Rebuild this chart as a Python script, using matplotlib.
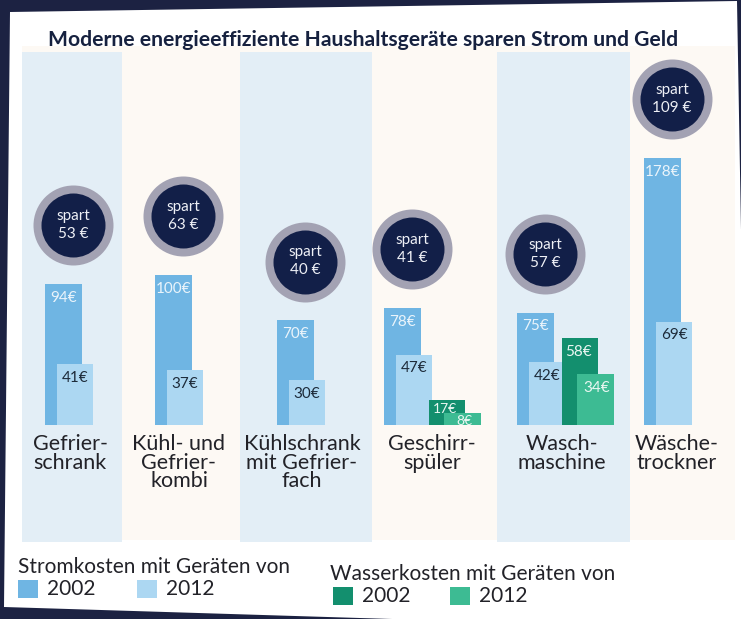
import matplotlib.pyplot as plt
from matplotlib.patches import Polygon, Rectangle

# data
categories = ["Gefrier-\nschrank", "Kühl- und\nGefrier-\nkombi", "Kühlschrank\nmit Gefrier-\nfach",
              "Geschirr-\nspüler", "Wasch-\nmaschine", "Wäsche-\ntrockner"]
strom_2002 = [94, 100, 70, 78, 75, 178]
strom_2012 = [41, 37, 30, 47, 42, 69]
wasser_2002 = [None, None, None, 17, 58, None]
wasser_2012 = [None, None, None, 8, 34, None]
spart = [53, 63, 40, 41, 57, 109]

# layout (pixels)
group_left = [45, 155, 277, 384, 517, 644]
label_x = [70, 179, 302, 432, 562, 677]
W, H = 741, 619
base_px, px_per_eur = 425, 1.5

c_s02, c_s12 = "#6fb5e3", "#acd7f2"
c_w02, c_w12 = "#138f6e", "#3dbb93"
navy = "#121f48"
txt_col = "#222228"
FONT = "Lato"

fig = plt.figure(figsize=(W / 100, H / 100), dpi=100, facecolor="#1c2242")

bg = fig.add_axes([0, 0, 1, 1])
bg.set_xlim(0, W)
bg.set_ylim(H, 0)
bg.axis("off")
bg.add_patch(Polygon([(10, 12), (737, 1), (748, 630), (4, 607)], closed=True,
                     facecolor="white", edgecolor="none"))
bg.add_patch(Rectangle((22, 46), 713, 494, facecolor="#fdf9f4", edgecolor="none"))
for x0, x1 in [(22, 122), (240, 372), (497, 630)]:
    bg.add_patch(Rectangle((x0, 52), x1 - x0, 490, facecolor="#e3eef6", edgecolor="none"))

bg.text(48, 40, "Moderne energieeffiziente Haushaltsgeräte sparen Strom und Geld",
        fontsize=15.2, fontweight="bold", color="#16213f", family=FONT, va="center", ha="left")

for x, lab in zip(label_x, categories):
    bg.text(x, 434, lab, ha="center", va="top", fontsize=15.5, family=FONT, color=txt_col,
            linespacing=0.92)

# legend
bg.text(18, 567, "Stromkosten mit Geräten von", fontsize=15, family=FONT,
        va="center", color=txt_col)
bg.text(330, 574, "Wasserkosten mit Geräten von", fontsize=15, family=FONT,
        va="center", color=txt_col)
for (sx, sy, col, txt) in [(18, 580, c_s02, "2002"), (137, 580, c_s12, "2012"),
                           (333, 587, c_w02, "2002"), (450, 587, c_w12, "2012")]:
    bg.add_patch(Rectangle((sx, sy), 20, 18, facecolor=col, edgecolor="none"))
    bg.text(sx + 29, sy + 9, txt, fontsize=15, family=FONT,
            va="center", color=txt_col)

# data axes: y in euro
ax = fig.add_axes([0, 0, 1, 1])
ax.set_xlim(0, W)
ax.set_ylim((base_px - H) / px_per_eur, base_px / px_per_eur)
ax.axis("off")
ax.patch.set_alpha(0)


def value_label(x, v, color):
    h = v * px_per_eur
    off = min(14, max(8, 0.36 * h))
    fs = 11 if h >= 30 else 10
    ax.annotate(f"{v}€", (x, v), xytext=(0, -off), textcoords="offset pixels",
                ha="center", va="center", fontsize=fs, family=FONT, color=color)


for i, g in enumerate(group_left):
    ax.bar(g, strom_2002[i], width=37, align="edge", color=c_s02)
    value_label(g + 18.5, strom_2002[i], "#eaf4fb")
    ax.bar(g + 12, strom_2012[i], width=36, align="edge", color=c_s12)
    value_label(g + 30, strom_2012[i], "#1d2b3a")
    if wasser_2002[i] is not None:
        ax.bar(g + 45, wasser_2002[i], width=36, align="edge", color=c_w02)
        ax.bar(g + 60, wasser_2012[i], width=37, align="edge", color=c_w12)
        value_label(g + 61, wasser_2002[i], "#eaf7f2")
        value_label(g + 80, wasser_2012[i], "#eaf7f2")

    top = max(strom_2002[i], wasser_2002[i] or 0)
    cx, cy = g + 28, top + 39
    ax.scatter([cx], [cy], s=(80 * 0.72) ** 2, color="#a3a2b3", zorder=3, linewidths=0)
    ax.scatter([cx], [cy], s=(64 * 0.72) ** 2, color=navy, zorder=4, linewidths=0)
    ax.annotate("spart", (cx, cy), xytext=(0, 9), textcoords="offset pixels", ha="center",
                va="center", fontsize=11, family=FONT, color="#eef0f6", zorder=5)
    ax.annotate(f"{spart[i]} €", (cx, cy), xytext=(0, -9), textcoords="offset pixels",
                ha="center", va="center", fontsize=11, family=FONT, color="#eef0f6", zorder=5)

fig.savefig("out.png", dpi=100, facecolor=fig.get_facecolor())
